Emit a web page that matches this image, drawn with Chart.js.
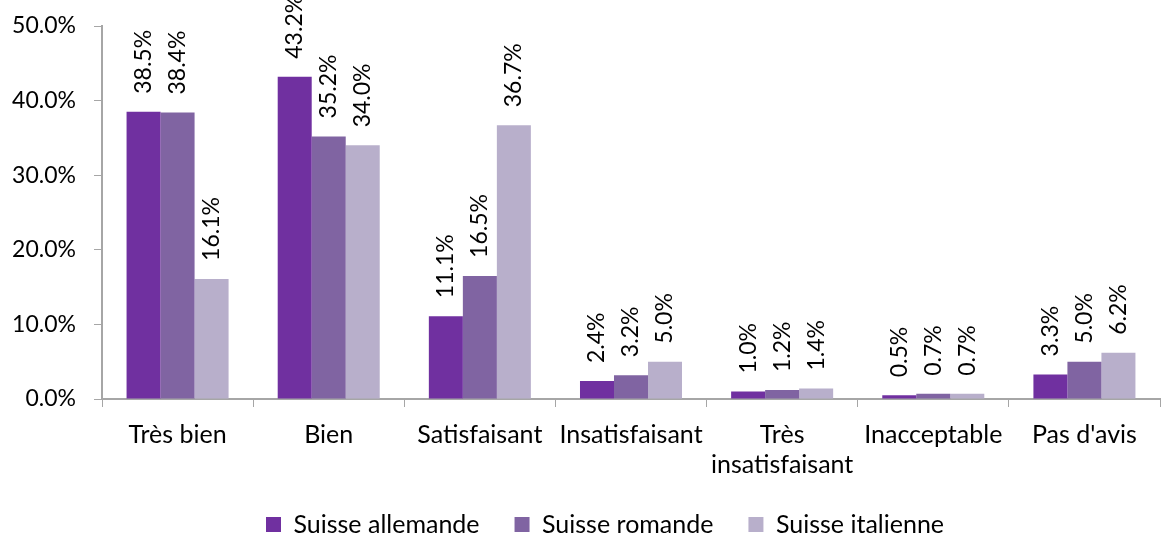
<!DOCTYPE html>
<html>
<head>
<meta charset="utf-8">
<script src="https://cdn.jsdelivr.net/npm/chart.js@4/dist/chart.umd.min.js"></script>
<style>
    html, body { margin: 0; padding: 0; background: #fff; }
    #wrap { width: 1162px; height: 534px; }
</style>
</head>
<body>
<div id="wrap"><canvas id="chart"></canvas></div>
<script>
const categories = ['Très bien', 'Bien', 'Satisfaisant', 'Insatisfaisant', ['Très', 'insatisfaisant'], 'Inacceptable', "Pas d'avis"];
const seriesNames = ['Suisse allemande', 'Suisse romande', 'Suisse italienne'];
const allemande = [38.5, 43.2, 11.1, 2.4, 1.0, 0.5, 3.3];
const romande = [38.4, 35.2, 16.5, 3.2, 1.2, 0.7, 5.0];
const italienne = [16.1, 34.0, 36.7, 5.0, 1.4, 0.7, 6.2];
const colors = ['#7030a0', '#8064a2', '#b8afcb'];

const FONT = 'Lato, Calibri, sans-serif';
const axisColor = '#a6a6a6';

// vertical value labels above each bar
const barLabels = {
    id: 'barLabels',
    afterDatasetsDraw(chart) {
        const ctx = chart.ctx;
        ctx.save();
        ctx.font = '23px ' + FONT;
        ctx.fillStyle = '#000';
        ctx.textAlign = 'left';
        ctx.textBaseline = 'middle';
        chart.data.datasets.forEach((ds, i) => {
            chart.getDatasetMeta(i).data.forEach((bar, j) => {
                ctx.save();
                ctx.translate(bar.x, bar.y - 18);
                ctx.rotate(-Math.PI / 2);
                ctx.fillText(ds.data[j].toFixed(1) + '%', 0, 0);
                ctx.restore();
            });
        });
        ctx.restore();
    }
};

// legend: wide gaps between items but less height, nudged right like the original
const legendTweak = {
    id: 'legendTweak',
    beforeLayout(chart) {
        const legend = chart.legend;
        if (legend._patched) return;
        const fit = legend.fit;
        legend.fit = function () {
            fit.call(this);
            this.height -= 29;
        };
        legend._patched = true;
    },
    afterLayout(chart) {
        const legend = chart.legend;
        legend.left += 25;
        legend.right += 25;
        legend.top -= 16;
    }
};

new Chart(document.getElementById('chart'), {
    type: 'bar',
    data: {
        labels: categories,
        datasets: [
            { label: seriesNames[0], data: allemande, backgroundColor: colors[0] },
            { label: seriesNames[1], data: romande, backgroundColor: colors[1] },
            { label: seriesNames[2], data: italienne, backgroundColor: colors[2] }
        ]
    },
    options: {
        responsive: true,
        maintainAspectRatio: false,
        animation: false,
        layout: { padding: { top: 0, right: 2, left: 0, bottom: 0 } },
        datasets: { bar: { categoryPercentage: 0.675, barPercentage: 1 } },
        scales: {
            x: {
                grid: { drawOnChartArea: false, color: axisColor, tickLength: 8, offset: true },
                border: { color: axisColor, width: 2 },
                ticks: { color: '#000', font: { family: FONT, size: 25 }, maxRotation: 0, autoSkip: false, padding: 13 }
            },
            y: {
                min: 0,
                max: 50,
                afterFit(scale) {
                    scale.width = 102;
                    scale.paddingTop = 26;
                },
                grid: { drawOnChartArea: false, color: axisColor, tickLength: 8 },
                border: { color: axisColor, width: 2 },
                ticks: {
                    stepSize: 10,
                    color: '#000',
                    font: { family: FONT, size: 23 },
                    padding: 18,
                    callback: v => v.toFixed(1) + '%'
                }
            }
        },
        plugins: {
            tooltip: { enabled: false },
            legend: {
                position: 'bottom',
                labels: {
                    color: '#000',
                    font: { family: FONT, size: 25 },
                    boxWidth: 15,
                    boxHeight: 15,
                    padding: 35
                }
            }
        }
    },
    plugins: [barLabels, legendTweak]
});
</script>
</body>
</html>
